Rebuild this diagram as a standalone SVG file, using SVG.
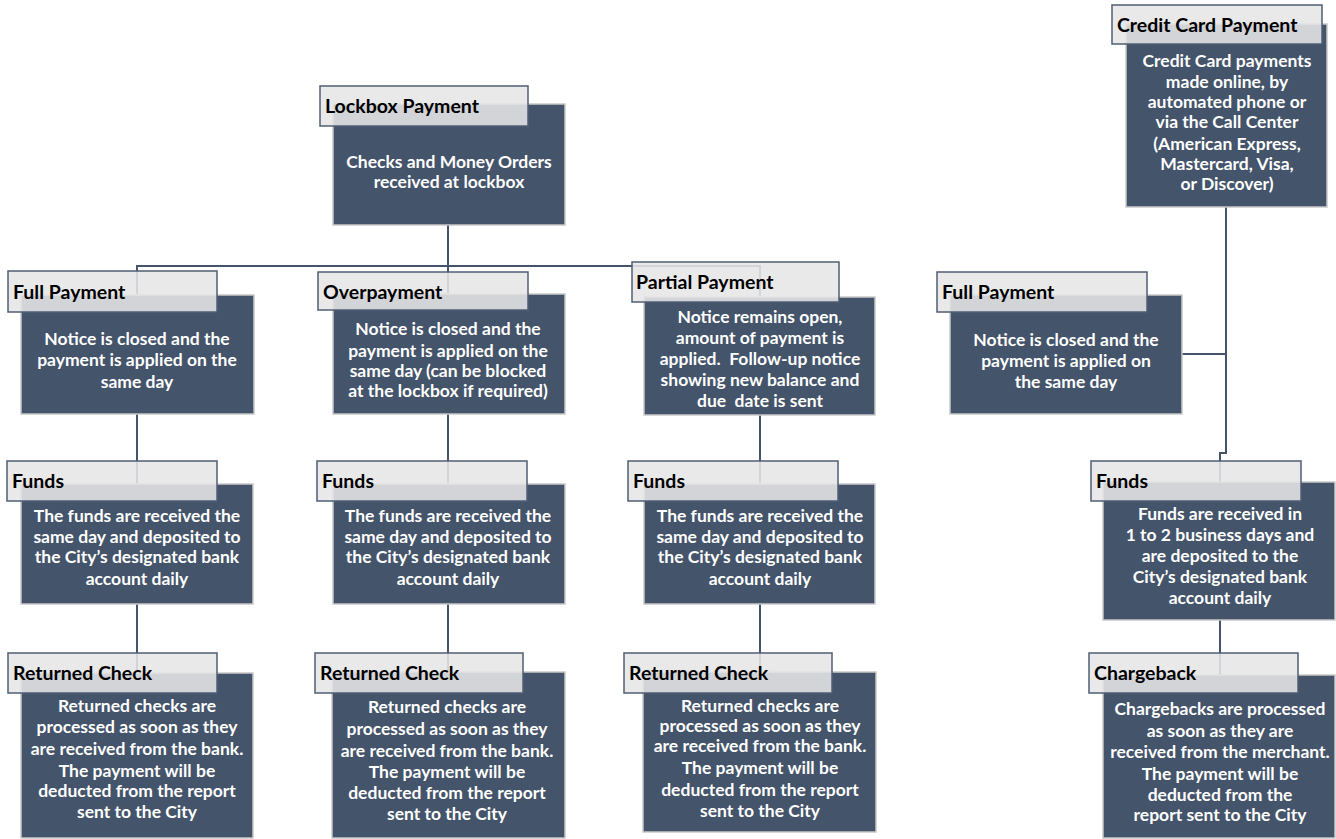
<svg xmlns="http://www.w3.org/2000/svg" width="1336" height="839" viewBox="0 0 1336 839">
<style>
.box{fill:#44546a;stroke:#c9c9c9;stroke-width:1.5}
.hdr{fill:#e6e6e6;fill-opacity:0.88;stroke:#4f5e74;stroke-width:1.5}
.ht{font-family:Lato,"Liberation Sans",sans-serif;font-weight:bold;font-size:19.5px;fill:#000}
.bt{font-family:Lato,"Liberation Sans",sans-serif;font-weight:bold;font-size:17.5px;fill:#fff;text-anchor:middle;white-space:pre}
.con{fill:none;stroke:#44546a;stroke-width:2}
</style>
<rect width="1336" height="839" fill="#fff"/>
<g id="connectors" class="con">
<path d="M448 225V294"/>
<path d="M137 295V266H760V297"/>
<path d="M137 414V484M137 604V673"/>
<path d="M448 414V484M448 604V672"/>
<path d="M760 415V484M760 604V672"/>
<path d="M1226 207V453H1220V482M1182 354H1226"/>
<path d="M1220 620V675"/>
</g>
<g id="lockbox">
<rect class="box" x="333" y="104" width="232" height="121"/>
<rect class="hdr" x="320" y="86" width="208" height="40"/>
<text class="ht" x="325" y="113">Lockbox Payment</text>
<text class="bt"><tspan x="449" y="168">Checks and Money Orders</tspan><tspan x="449" y="188">received at lockbox</tspan></text>
</g>
<g id="credit-card">
<rect class="box" x="1126" y="24" width="201" height="183"/>
<rect class="hdr" x="1112" y="5" width="210" height="39"/>
<text class="ht" x="1117" y="32">Credit Card Payment</text>
<text class="bt"><tspan x="1227" y="67">Credit Card payments</tspan><tspan x="1227" y="88">made online, by</tspan><tspan x="1227" y="108">automated phone or</tspan><tspan x="1227" y="128">via the Call Center</tspan><tspan x="1227" y="150">(American Express,</tspan><tspan x="1227" y="170">Mastercard, Visa,</tspan><tspan x="1227" y="190">or Discover)</tspan></text>
</g>
<g id="full-payment-1">
<rect class="box" x="21" y="295" width="233" height="119"/>
<rect class="hdr" x="8" y="271" width="209" height="41"/>
<text class="ht" x="13" y="299">Full Payment</text>
<text class="bt"><tspan x="137" y="345">Notice is closed and the</tspan><tspan x="137" y="366">payment is applied on the</tspan><tspan x="137" y="388">same day</tspan></text>
</g>
<g id="overpayment">
<rect class="box" x="333" y="294" width="232" height="120"/>
<rect class="hdr" x="318" y="272" width="210" height="38"/>
<text class="ht" x="323" y="299">Overpayment</text>
<text class="bt"><tspan x="448" y="335">Notice is closed and the</tspan><tspan x="448" y="357">payment is applied on the</tspan><tspan x="448" y="377">same day (can be blocked</tspan><tspan x="448" y="397">at the lockbox if required)</tspan></text>
</g>
<g id="partial-payment">
<rect class="box" x="644" y="297" width="231" height="118"/>
<rect class="hdr" x="632" y="262" width="207" height="40"/>
<text class="ht" x="636" y="289">Partial Payment</text>
<text class="bt"><tspan x="760" y="323">Notice remains open,</tspan><tspan x="760" y="344">amount of payment is</tspan><tspan x="760" y="365">applied.  Follow-up notice</tspan><tspan x="760" y="386">showing new balance and</tspan><tspan x="760" y="407">due  date is sent</tspan></text>
</g>
<g id="full-payment-2">
<rect class="box" x="950" y="295" width="232" height="119"/>
<rect class="hdr" x="937" y="272" width="210" height="40"/>
<text class="ht" x="942" y="299">Full Payment</text>
<text class="bt"><tspan x="1066" y="346">Notice is closed and the</tspan><tspan x="1066" y="367">payment is applied on</tspan><tspan x="1066" y="388">the same day</tspan></text>
</g>
<g id="funds-1">
<rect class="box" x="21" y="484" width="232" height="120"/>
<rect class="hdr" x="7" y="461" width="210" height="40"/>
<text class="ht" x="12" y="488">Funds</text>
<text class="bt"><tspan x="137" y="522">The funds are received the</tspan><tspan x="137" y="543">same day and deposited to</tspan><tspan x="137" y="563">the City’s designated bank</tspan><tspan x="137" y="585">account daily</tspan></text>
</g>
<g id="funds-2">
<rect class="box" x="333" y="484" width="232" height="120"/>
<rect class="hdr" x="317" y="461" width="210" height="40"/>
<text class="ht" x="322" y="488">Funds</text>
<text class="bt"><tspan x="448" y="522">The funds are received the</tspan><tspan x="448" y="543">same day and deposited to</tspan><tspan x="448" y="563">the City’s designated bank</tspan><tspan x="448" y="585">account daily</tspan></text>
</g>
<g id="funds-3">
<rect class="box" x="644" y="484" width="231" height="120"/>
<rect class="hdr" x="628" y="461" width="210" height="40"/>
<text class="ht" x="633" y="488">Funds</text>
<text class="bt"><tspan x="760" y="522">The funds are received the</tspan><tspan x="760" y="543">same day and deposited to</tspan><tspan x="760" y="563">the City’s designated bank</tspan><tspan x="760" y="585">account daily</tspan></text>
</g>
<g id="funds-4">
<rect class="box" x="1103" y="482" width="232" height="138"/>
<rect class="hdr" x="1091" y="461" width="210" height="40"/>
<text class="ht" x="1096" y="488">Funds</text>
<text class="bt"><tspan x="1220" y="520">Funds are received in</tspan><tspan x="1220" y="541">1 to 2 business days and</tspan><tspan x="1220" y="562">are deposited to the</tspan><tspan x="1220" y="583">City’s designated bank</tspan><tspan x="1220" y="604">account daily</tspan></text>
</g>
<g id="returned-check-1">
<rect class="box" x="21" y="673" width="232" height="165"/>
<rect class="hdr" x="8" y="653" width="209" height="40"/>
<text class="ht" x="13" y="680">Returned Check</text>
<text class="bt"><tspan x="137" y="712">Returned checks are</tspan><tspan x="137" y="733">processed as soon as they</tspan><tspan x="137" y="755">are received from the bank.</tspan><tspan x="137" y="777">The payment will be</tspan><tspan x="137" y="797">deducted from the report</tspan><tspan x="137" y="818">sent to the City</tspan></text>
</g>
<g id="returned-check-2">
<rect class="box" x="332" y="672" width="233" height="166"/>
<rect class="hdr" x="315" y="653" width="208" height="40"/>
<text class="ht" x="320" y="680">Returned Check</text>
<text class="bt"><tspan x="447" y="713">Returned checks are</tspan><tspan x="447" y="735">processed as soon as they</tspan><tspan x="447" y="757">are received from the bank.</tspan><tspan x="447" y="778">The payment will be</tspan><tspan x="447" y="799">deducted from the report</tspan><tspan x="447" y="820">sent to the City</tspan></text>
</g>
<g id="returned-check-3">
<rect class="box" x="643" y="672" width="233" height="160"/>
<rect class="hdr" x="624" y="653" width="208" height="40"/>
<text class="ht" x="629" y="680">Returned Check</text>
<text class="bt"><tspan x="760" y="712">Returned checks are</tspan><tspan x="760" y="732">processed as soon as they</tspan><tspan x="760" y="752">are received from the bank.</tspan><tspan x="760" y="774">The payment will be</tspan><tspan x="760" y="796">deducted from the report</tspan><tspan x="760" y="817">sent to the City</tspan></text>
</g>
<g id="chargeback">
<rect class="box" x="1103" y="675" width="232" height="163"/>
<rect class="hdr" x="1089" y="653" width="209" height="40"/>
<text class="ht" x="1094" y="680">Chargeback</text>
<text class="bt"><tspan x="1220" y="715">Chargebacks are processed</tspan><tspan x="1220" y="737">as soon as they are</tspan><tspan x="1220" y="758">received from the merchant.</tspan><tspan x="1220" y="780">The payment will be</tspan><tspan x="1220" y="801">deducted from the</tspan><tspan x="1220" y="821">report sent to the City</tspan></text>
</g>
</svg>
